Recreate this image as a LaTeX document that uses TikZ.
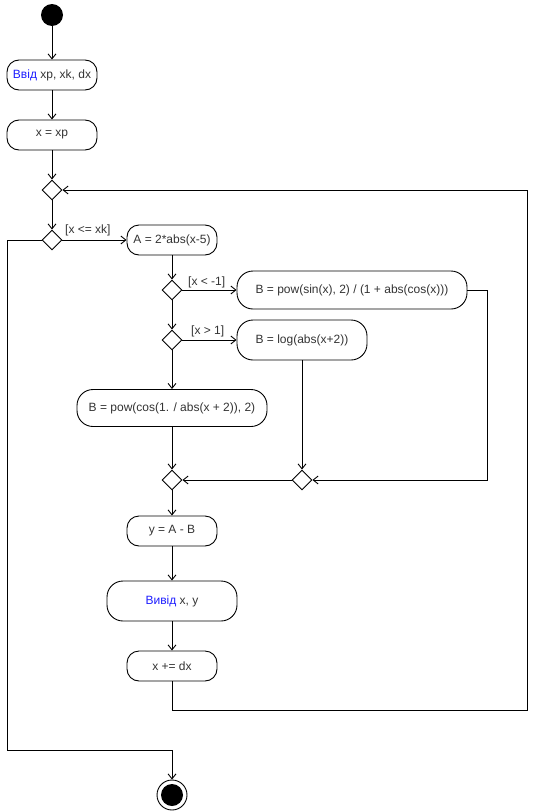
\documentclass[tikz,border=0pt]{standalone}
\usepackage{fontspec}
\setmainfont{Liberation Sans}
\usetikzlibrary{shapes.geometric,arrows.meta}
\definecolor{txt}{RGB}{51,51,51}
\definecolor{kw}{RGB}{30,30,255}
\begin{document}
\begin{tikzpicture}[x=1pt,y=-1pt,
  every node/.style={font=\fontsize{12}{14}\selectfont, text=txt},
  act/.style={draw, line width=0.9pt, rounded corners=12pt, minimum height=30pt, inner sep=0pt},
  actb/.style={draw, line width=0.9pt, rounded corners=16pt, inner sep=0pt},
  dec/.style={draw, line width=0.9pt, diamond, minimum width=20pt, minimum height=20pt, inner sep=0pt, fill=white},
  flow/.style={line width=0.9pt, -{Straight Barb[length=5pt,width=8pt]}},
  plain/.style={line width=0.9pt},
  guard/.style={font=\fontsize{12}{14}\selectfont, text=txt, inner sep=0pt, anchor=west}
]
\useasboundingbox (0,0) rectangle (536,811);

\node[circle, fill=black, minimum size=22pt, inner sep=0pt] (start) at (52,15) {};
\node[act, minimum width=90pt] (in) at (52,75) {\textcolor{kw}{Ввід} xp, xk, dx};
\node[act, minimum width=90pt] (x0) at (52,135) {x = xp};
\node[dec] (d1) at (52,190) {};
\node[dec] (d2) at (52,240) {};
\node[act, minimum width=90pt] (A) at (172,240) {A = 2*abs(x-5)};
\node[dec] (d3) at (172,290) {};
\node[actb, minimum width=230pt, minimum height=38pt] (B1) at (352,290) {B = pow(sin(x), 2) / (1 + abs(cos(x)))};
\node[dec] (d4) at (172,340) {};
\node[actb, minimum width=130pt, minimum height=40pt] (B2) at (302,340) {B = log(abs(x+2))};
\node[actb, minimum width=190pt, minimum height=37pt] (B3) at (172,408) {B = pow(cos(1. / abs(x + 2)), 2)};
\node[dec] (d5) at (172,480) {};
\node[dec] (d6) at (302,480) {};
\node[act, minimum width=90pt] (y) at (172,531) {y = A - B};
\node[actb, minimum width=130pt, minimum height=40pt] (out) at (172,601) {\textcolor{kw}{Вивід} x, y};
\node[act, minimum width=90pt] (dx) at (172,666) {x += dx};
\node[circle, draw, line width=0.9pt, fill=white, minimum size=30pt, inner sep=0pt] (end) at (172,795) {};
\fill (end.center) circle (11pt);

\coordinate (r1) at (487,290);
\coordinate (lp) at (527,710);
\coordinate (lx) at (7,750);

\draw[flow] (start) -- (in);
\draw[flow] (in) -- (x0);
\draw[flow] (x0) -- (d1);
\draw[flow] (d1) -- (d2);
\draw[flow] (d2.east) -- (A.west);
\node[guard] (g1) at (65,230) {[x <= xk]};
\draw[flow] (A) -- (d3);
\draw[flow] (d3.east) -- (B1.west);
\node[guard] (g2) at (188,282) {[x < -1]};
\draw[flow] (d3) -- (d4);
\draw[flow] (d4.east) -- (B2.west);
\node[guard] (g3) at (191,331) {[x > 1]};
\draw[flow] (d4) -- (B3);
\draw[flow] (B3) -- (d5);
\draw[flow] (B2) -- (d6);
\draw[flow] (B1.east) -- (r1) |- (d6.east);
\draw[flow] (d6.west) -- (d5.east);
\draw[flow] (d5) -- (y);
\draw[flow] (y) -- (out);
\draw[flow] (out) -- (dx);
\draw[flow] (dx.south) |- (lp) |- (d1.east);
\draw[flow] (d2.west) -| (lx) -| (end.north);
\end{tikzpicture}
\end{document}
